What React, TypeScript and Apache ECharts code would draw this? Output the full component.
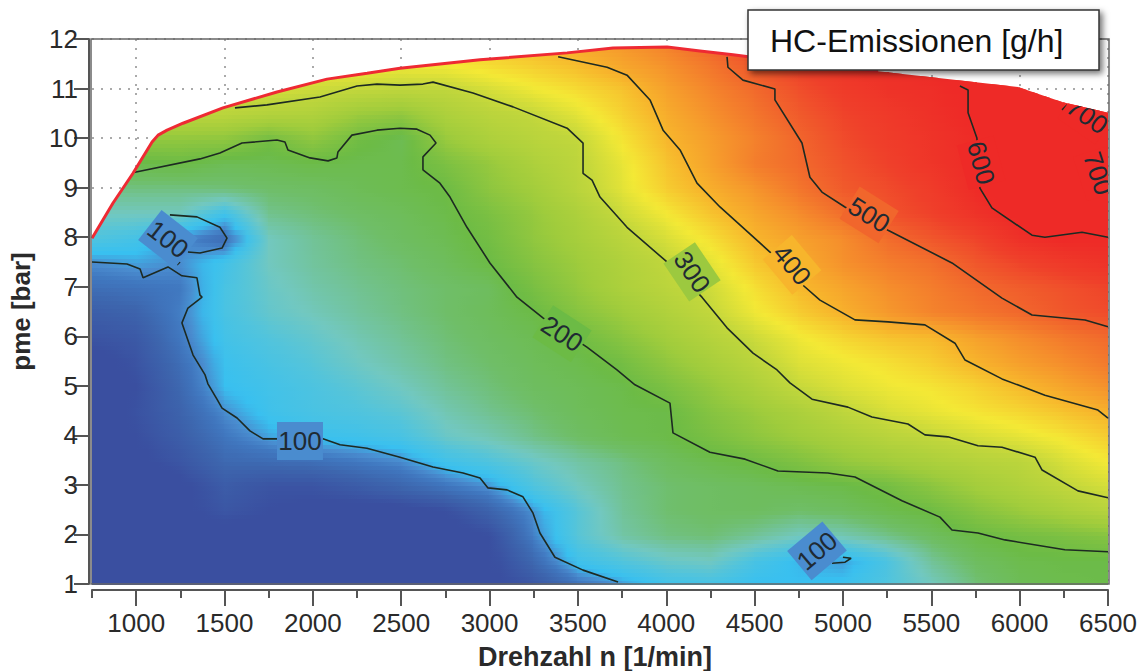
import React, { useEffect, useRef } from "react";
import * as echarts from "echarts";

const rpmGrid = [750,1000,1250,1500,1750,2000,2250,2500,2750,3000,3250,3500,3750,4000,4250,4500,4750,5000,5250,5500,5750,6000,6250,6500];
const pmeGrid = [1,1.5,2,2.5,3,3.5,4,4.5,5,5.5,6,6.5,7,7.5,8,8.5,9,9.5,10,10.5,11,11.5,12];

const hc01 = [45,45,45,45,45,45,45,45,45,50,62,88,103,118,122,112,112,115,130,150,175,190,195,197];
const hc015 = [45,45,45,45,45,45,45,45,45,50,80,118,132,145,150,125,110,103,128,165,185,195,198,198];
const hc02 = [45,45,45,47,47,45,45,45,45,55,95,135,160,172,176,165,150,155,170,185,199,208,215,225];
const hc025 = [45,45,50,62,55,50,48,48,55,75,102,135,165,178,183,185,180,185,195,203,225,245,265,285];
const hc03 = [45,45,50,68,60,60,68,78,90,102,130,150,168,178,183,187,192,197,208,230,255,275,300,318];
const hc035 = [45,50,62,80,82,85,92,99,118,130,145,160,172,185,195,203,218,238,252,268,282,292,320,345];
const hc04 = [48,55,70,90,105,115,118,125,145,155,170,182,192,198,213,232,250,268,288,302,318,332,350,375];
const hc045 = [48,58,75,100,118,125,130,138,155,168,178,188,195,198,225,245,268,296,320,335,350,365,385,405];
const hc05 = [47,55,80,112,120,128,138,150,165,175,185,190,197,215,240,270,305,325,340,350,370,395,420,445];
const hc055 = [47,60,85,115,125,135,148,160,172,180,188,195,208,235,262,292,325,340,355,375,402,428,450,475];
const hc06 = [60,65,92,120,132,142,155,166,176,184,192,203,228,255,282,310,340,365,385,395,425,450,475,495];
const hc065 = [70,75,95,125,142,152,163,172,180,188,199,225,250,275,302,340,375,405,435,462,480,498,520,535];
const hc07 = [85,88,92,125,145,158,167,174,180,186,212,240,270,292,312,355,395,420,448,470,495,512,528,545];
const hc075 = [100,105,100,120,150,163,172,178,187,200,225,248,275,300,330,380,410,445,470,488,520,545,565,580];
const hc08 = [130,122,100,82,150,165,175,184,192,207,235,260,290,320,355,399,425,450,492,520,545,585,602,600];
const hc085 = [150,150,150,118,168,175,182,188,197,215,240,270,310,345,385,418,450,490,525,550,580,610,635,640];
const hc09 = [170,172,172,175,180,183,190,195,201,232,255,290,330,375,408,440,480,515,535,560,597,625,650,670];
const hc095 = [190,195,199,190,192,197,194,195,215,240,270,295,335,385,425,470,495,525,550,575,598,640,670,700];
const hc10 = [220,235,235,232,207,233,205,192,242,270,288,302,350,398,430,465,500,535,558,578,598,640,680,705];
const hc105 = [300,295,292,290,278,274,245,234,270,290,303,330,370,410,445,480,515,545,565,585,605,650,695,720];
const hc11 = [330,330,328,325,318,310,302,296,298,318,340,360,385,425,460,495,530,560,580,590,610,660,720,750];
const hc115 = [345,345,345,345,345,345,345,340,345,360,375,393,420,445,480,520,550,575,590,600,620,680,740,770];
const hc12 = [360,360,360,360,360,360,360,360,365,380,400,420,440,470,510,545,565,585,600,610,630,690,750,780];
const hcRows = [hc01,hc015,hc02,hc025,hc03,hc035,hc04,hc045,hc05,hc055,hc06,hc065,hc07,hc075,hc08,hc085,hc09,hc095,hc10,hc105,hc11,hc115,hc12];

const fullLoad = [[750,7.98],[869,8.69],[982,9.29],[1090,9.92],[1124,10.06],[1175,10.16],[1265,10.3],[1491,10.61],[1797,10.93],[2080,11.19],[2307,11.31],[2493,11.41],[2946,11.58],[3439,11.72],[3699,11.82],[4005,11.84],[4191,11.76],[4378,11.68],[4757,11.51],[5199,11.35],[5504,11.23],[5991,11.03],[6240,10.73],[6500,10.51]];
const redLine = fullLoad.slice(0, 20);

const c100a = [[750,7.5],[948,7.46],[1022,7.36],[1039,7.18],[1180,7.4],[1259,7.22],[1344,7.18],[1361,6.83],[1373,6.79],[1293,6.57],[1259,6.27],[1322,5.62],[1390,5.22],[1406,5.04],[1457,4.73],[1486,4.55],[1571,4.35],[1644,4.09],[1718,3.93],[1797,3.93],[2057,3.93],[2154,3.81],[2306,3.74],[2493,3.56],[2680,3.36],[2850,3.24],[2946,3.14],[2991,2.94],[3099,2.9],[3189,2.76],[3246,2.43],[3285,2.03],[3370,1.54],[3529,1.28],[3727,1.04]];
const c100b = [[1191,8.45],[1344,8.41],[1474,8.2],[1514,7.98],[1486,7.78],[1361,7.68],[1293,7.7]];
const c100c = [[4938,1.42],[5012,1.44],[5046,1.52],[5000,1.54]];
const c100d = [[1231,7.44],[1248,7.5]];
const c200 = [[993,9.31],[1361,9.58],[1474,9.7],[1599,9.9],[1797,9.96],[1842,9.92],[1859,9.76],[1984,9.6],[2086,9.54],[2136,9.6],[2142,9.72],[2221,10.06],[2363,10.16],[2493,10.2],[2589,10.18],[2663,10.06],[2697,9.9],[2623,9.62],[2623,9.36],[2719,9.09],[2776,8.81],[2872,8.2],[3002,7.48],[3155,6.79],[3302,6.37],[3551,5.78],[3721,5.32],[3823,5.02],[4021,4.65],[4038,4.05],[4247,3.66],[4446,3.52],[4632,3.28],[4915,3.24],[5068,3.16],[5334,2.68],[5549,2.35],[5617,2.09],[5764,2.03],[5917,1.89],[6256,1.69],[6500,1.65]];
const c300 = [[1559,10.61],[1740,10.67],[2040,10.83],[2250,11.05],[2363,11.09],[2493,11.07],[2623,11.09],[2680,11.13],[2906,10.91],[3133,10.63],[3439,10.2],[3529,9.9],[3529,9.29],[3580,9.15],[3625,8.81],[3778,8.2],[4004,7.5],[4202,6.79],[4344,6.17],[4491,5.66],[4627,5.32],[4700,5.06],[4825,4.73],[5028,4.57],[5164,4.37],[5368,4.23],[5464,4.01],[5594,3.97],[5764,3.79],[5900,3.76],[6087,3.56],[6127,3.3],[6330,2.88],[6500,2.74]];
const c400 = [[3388,11.64],[3665,11.43],[3778,11.27],[3908,10.77],[3982,10.16],[4078,9.76],[4174,9.09],[4304,8.61],[4587,7.7],[4774,7.03],[4870,6.73],[5068,6.33],[5255,6.29],[5464,6.23],[5634,5.86],[5691,5.52],[5900,5.14],[6143,4.81],[6443,4.51],[6500,4.35]];
const c500 = [[4344,11.64],[4349,11.43],[4434,11.17],[4615,10.99],[4615,10.77],[4768,9.9],[4813,9.21],[4881,8.91],[5011,8.61],[5255,8.14],[5617,7.48],[5900,6.77],[6070,6.43],[6370,6.33],[6500,6.19]];
const c600 = [[5662,11.05],[5708,10.97],[5708,10.51],[5758,10],[5775,8.99],[5843,8.59],[6070,8.04],[6143,8],[6353,8.1],[6500,8]];
const c700 = [[6240,10.57],[6269,10.67]];
const contours = [c100a,c100b,c100c,c100d,c200,c300,c400,c500,c600,c700];

const labelTexts = ["100","100","100","200","300","400","500","600","700","700"];
const labelRpm = [1927,1180,4853,3410,4146,4712,5148,5782,6382,6444];
const labelPme = [3.886,7.96,1.67,6.05,7.3,7.44,8.45,9.5,10.45,9.29];
const labelAngle = [0,-38,40,-33,-56,-50,-32,-75,-35,-72];
const labelPatch = ["#4a8ccf","#4a8ccf","#4a8ccf","#6cbb45","#9cc93f","#f7b52c","#f1662c","#ee2a27","#ee2a27","#ee2a27"];

const colorValues = [0,55,78,92,100,112,132,150,165,180,200,250,300,345,400,450,500,550,600,1000];
const colorHex = ["#3a4fa0","#3a4fa0","#3d66ae","#4078c0","#4a8ccf","#38c0f0","#52c4dc","#72c8c0","#72c398","#6fbe68","#6cbb45","#a0cc3c","#c0d63c","#f4e935","#f7b52c","#f58d2c","#f1662c","#ef402a","#ee2a27","#ee2a27"];

const xTickLabels = [1000,1500,2000,2500,3000,3500,4000,4500,5000,5500,6000,6500];
const fontFamily = '"Liberation Sans", Arial, sans-serif';

const hexRgb = (h: string) => [1, 3, 5].map((i) => parseInt(h.slice(i, i + 2), 16));
const colorOf = (v: number) => {
  let k = 0;
  while (k < colorValues.length - 2 && v > colorValues[k + 1]) k++;
  const t = Math.min(1, Math.max(0, (v - colorValues[k]) / (colorValues[k + 1] - colorValues[k])));
  const a = hexRgb(colorHex[k]);
  const b = hexRgb(colorHex[k + 1]);
  return `rgb(${a.map((c, n) => Math.round(c + (b[n] - c) * t)).join(",")})`;
};

const cellData: number[][] = [];
for (let j = 0; j < pmeGrid.length - 1; j++) {
  for (let i = 0; i < rpmGrid.length - 1; i++) cellData.push([rpmGrid[i], pmeGrid[j], hcRows[j][i]]);
}

const plotOutline = (api: any) =>
  [...fullLoad, [6500, 1], [750, 1]].map((p) => api.coord(p));

const renderCell = (_p: any, api: any) => {
  const rpm = api.value(0);
  const pme = api.value(1);
  const i = rpmGrid.indexOf(rpm);
  const j = pmeGrid.indexOf(pme);
  const [x0, y0] = api.coord([rpm, pme]);
  const [x1, y1] = api.coord([rpmGrid[i + 1], pmeGrid[j + 1]]);
  const rowsPerCell = 6;
  const stops = 4;
  const children: any[] = [];
  const left = Math.floor(x0);
  const right = Math.ceil(x1) + (i === rpmGrid.length - 2 ? 0 : 1);
  for (let m = 0; m < rowsPerCell; m++) {
    const tm = (m + 0.5) / rowsPerCell;
    const vL = hcRows[j][i] + (hcRows[j + 1][i] - hcRows[j][i]) * tm;
    const vR = hcRows[j][i + 1] + (hcRows[j + 1][i + 1] - hcRows[j][i + 1]) * tm;
    const colorStops: any[] = [];
    for (let s = 0; s <= stops; s++) {
      colorStops.push({ offset: s / stops, color: colorOf(vL + ((vR - vL) * s) / stops) });
    }
    const top = Math.floor(y0 + ((y1 - y0) * (m + 1)) / rowsPerCell);
    const bottom = Math.ceil(y0 + ((y1 - y0) * m) / rowsPerCell) + 1;
    children.push({
      type: "rect",
      shape: { x: left, y: top, width: right - left, height: bottom - top },
      style: { fill: { type: "linear", x: 0, y: 0, x2: 1, y2: 0, colorStops } },
      silent: true,
    });
  }
  const group: any = { type: "group", children };
  if (pme >= 7.5) group.clipPath = { type: "polygon", shape: { points: plotOutline(api) } };
  return group;
};

const renderLabel = (_p: any, api: any) => {
  const n = api.value(2);
  const [x, y] = api.coord([api.value(0), api.value(1)]);
  return {
    type: "group",
    clipPath: { type: "polygon", shape: { points: plotOutline(api) } },
    children: [
      {
        type: "group",
        x,
        y,
        rotation: (labelAngle[n] * Math.PI) / 180,
        children: [
          { type: "rect", shape: { x: -23, y: -19, width: 46, height: 38 }, style: { fill: labelPatch[n] } },
          {
            type: "text",
            style: { text: labelTexts[n], x: 0, y: 0, align: "center", verticalAlign: "middle", fontSize: 26, fontFamily, fill: "#1f2a33" },
          },
        ],
      },
    ],
  };
};

export default function App() {
  const ref = useRef<HTMLDivElement>(null);
  useEffect(() => {
    const chart = echarts.init(ref.current!, undefined, { renderer: "svg" });
    const axisLine = { show: true, onZero: false, lineStyle: { color: "#555", width: 2 } };
    const dotted = { show: true, lineStyle: { color: "#aaa", width: 2, type: [2, 7] as any } };
    chart.setOption({
      animation: false,
      backgroundColor: "#fff",
      grid: { left: 92, right: 37, top: 39, bottom: 87, containLabel: false, outerBoundsMode: "none", show: false },
      xAxis: [
        {
          type: "value", min: 750, max: 6500, interval: 250, position: "bottom", offset: 6,
          axisLine, axisLabel: { show: false }, splitLine: { show: false },
          axisTick: { show: true, length: 8, lineStyle: { color: "#555", width: 2 } },
        },
        {
          type: "value", min: 750, max: 6500, position: "bottom", offset: 6,
          name: "Drehzahl n [1/min]", nameLocation: "middle", nameGap: 53,
          nameTextStyle: { fontFamily, fontSize: 27, fontWeight: "bold", color: "#2a2a2a", padding: [0, 10, 0, 0] },
          axisLine: { show: false },
          axisTick: { show: true, length: 16, customValues: xTickLabels, lineStyle: { color: "#555", width: 2 } },
          axisLabel: { show: true, customValues: xTickLabels, formatter: (v: number) => String(v), fontFamily, fontSize: 26, color: "#2a2a2a", margin: 20, hideOverlap: false, showMinLabel: true, showMaxLabel: true },
          splitLine: dotted,
        },
      ],
      yAxis: {
        type: "value", min: 1, max: 12, interval: 1, offset: 3,
        name: "pme [bar]", nameLocation: "middle", nameGap: 55,
        nameTextStyle: { fontFamily, fontSize: 26, fontWeight: "bold", color: "#2a2a2a" },
        axisLine,
        axisTick: { show: true, length: 15, lineStyle: { color: "#555", width: 2 } },
        axisLabel: { fontFamily, fontSize: 26, color: "#2a2a2a", margin: 11 },
        splitLine: dotted,
      },
      series: [
        {
          type: "custom", coordinateSystem: "cartesian2d", xAxisIndex: 0, yAxisIndex: 0, name: "HC-Emissionen",
          data: cellData, encode: { x: 0, y: 1 }, renderItem: renderCell, progressive: 0, silent: true, clip: false, z: 1,
        },
        ...contours.map((c) => ({
          type: "line", xAxisIndex: 0, yAxisIndex: 0, data: c, symbol: "none", silent: true, clip: true, z: 3,
          lineStyle: { color: "#1d2a22", width: 1.6 },
        })),
        {
          type: "line", xAxisIndex: 0, yAxisIndex: 0, data: redLine, symbol: "none", silent: true, z: 4,
          lineStyle: { color: "#ee2a33", width: 3 },
        },
        {
          type: "custom", coordinateSystem: "cartesian2d", xAxisIndex: 0, yAxisIndex: 0,
          data: labelRpm.map((r, n) => [r, labelPme[n], n]), encode: { x: 0, y: 1 }, renderItem: renderLabel, silent: true, clip: false, z: 5,
        },
      ],
      graphic: [
        { type: "rect", z: 6, silent: true, shape: { x: 91, y: 39, width: 1018, height: 545 }, style: { fill: "none", stroke: "#666", lineWidth: 1.5 } },
        {
          type: "rect", z: 10, silent: true, shape: { x: 748, y: 10, width: 351, height: 60 },
          style: { fill: "#fff", stroke: "#333", lineWidth: 1.5, shadowBlur: 6, shadowOffsetX: 3, shadowOffsetY: 3, shadowColor: "rgba(0,0,0,0.55)" },
        },
        {
          type: "text", z: 11, silent: true, x: 770, y: 41,
          style: { text: "HC-Emissionen [g/h]", fontFamily, fontSize: 32, fill: "#111", verticalAlign: "middle" },
        },
      ],
    });
    return () => chart.dispose();
  }, []);
  return <div ref={ref} style={{ position: "absolute", left: 0, top: 0, width: 1145, height: 671 }} />;
}
